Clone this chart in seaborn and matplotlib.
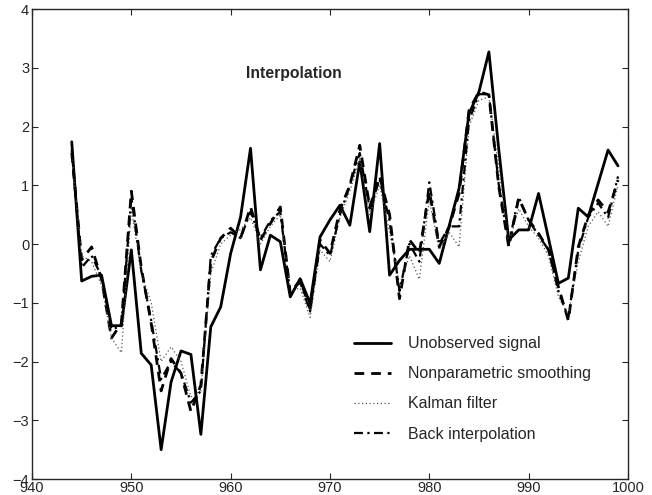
import numpy as np
import pandas as pd
import matplotlib
matplotlib.use("Agg")
import matplotlib.pyplot as plt
import seaborn as sns

# --- data ---
years = list(range(944, 1000))

signal = [1.74, -0.63, -0.55, -0.53, -1.39, -1.39, -0.10, -1.86, -2.06, -3.50,
          -2.35, -1.82, -1.88, -3.24, -1.41, -1.07, -0.16, 0.46, 1.63, -0.44,
          0.15, 0.04, -0.90, -0.59, -1.01, 0.12, 0.41, 0.66, 0.32, 1.40,
          0.21, 1.71, -0.53, -0.28, -0.09, -0.09, -0.09, -0.33, 0.31, 0.95,
          2.22, 2.59, 3.27, 1.60, 0.07, 0.24, 0.24, 0.86, 0.10, -0.67,
          -0.58, 0.61, 0.46, 1.03, 1.60, 1.33]

smoothing = [1.55, -0.27, -0.05, -0.60, -1.60, -1.35, 0.90, -0.40, -1.35, -2.50,
             -1.95, -2.20, -2.85, -2.40, -0.30, 0.10, 0.27, 0.10, 0.63, 0.07,
             0.35, 0.63, -0.84, -0.61, -1.10, 0.07, -0.16, 0.58, 1.00, 1.68,
             0.63, 1.15, 0.50, -0.93, 0.07, -0.15, 0.90, -0.05, 0.29, 0.86,
             2.28, 2.59, 2.54, 0.97, -0.05, 0.78, 0.41, 0.18, -0.10, -0.73,
             -1.30, -0.05, 0.49, 0.75, 0.54, 1.09]

kalman = [1.50, -0.20, -0.30, -0.70, -1.60, -1.85, 0.60, -0.50, -1.00, -2.00,
          -1.75, -2.00, -2.60, -2.50, -0.50, 0.00, 0.15, 0.25, 0.45, 0.00,
          0.30, 0.50, -0.80, -0.75, -1.25, -0.10, -0.30, 0.45, 0.90, 1.45,
          0.50, 1.00, 0.20, -0.70, -0.20, -0.60, 0.75, -0.10, 0.20, -0.05,
          2.00, 2.45, 2.50, 1.30, 0.00, 0.60, 0.30, 0.10, -0.20, -0.90,
          -1.20, -0.30, 0.30, 0.55, 0.30, 1.00]

back_interp = [1.60, -0.40, -0.20, -0.55, -1.45, -1.40, 0.80, -0.45, -1.30, -2.30,
               -2.00, -2.20, -2.70, -2.50, -0.20, 0.10, 0.20, 0.10, 0.55, 0.10,
               0.40, 0.55, -0.85, -0.65, -1.15, 0.00, -0.20, 0.50, 1.00, 1.55,
               0.60, 1.10, 0.40, -0.80, 0.00, -0.30, 1.05, 0.00, 0.30, 0.30,
               2.10, 2.55, 2.55, 1.00, 0.00, 0.80, 0.40, 0.15, -0.10, -0.80,
               -1.25, -0.10, 0.45, 0.70, 0.45, 1.15]

labels = ["Unobserved signal", "Nonparametric smoothing", "Kalman filter", "Back interpolation"]
x_ticks = [940, 950, 960, 970, 980, 990, 1000]
y_ticks = [-4, -3, -2, -1, 0, 1, 2, 3, 4]

df = pd.DataFrame({
    "year": years * 4,
    "value": signal + smoothing + kalman + back_interp,
    "series": sum([[lab] * len(years) for lab in labels], []),
})

# --- style ---
sns.set_style("ticks")
plt.rcParams["font.family"] = ["Liberation Sans", "DejaVu Sans"]
plt.rcParams.update({
    "xtick.direction": "in", "ytick.direction": "in",
    "xtick.top": True, "ytick.right": True,
    "xtick.major.size": 4, "ytick.major.size": 4,
    "xtick.major.pad": 1.5, "ytick.major.pad": 2,
    "axes.linewidth": 1.0,
})

fig = plt.figure(figsize=(6.52, 4.95), dpi=100)
ax = fig.add_axes([0.0491, 0.0323, 0.914, 0.9495])

styles = {
    "Unobserved signal": dict(lw=2.0, ls="-", color="black"),
    "Nonparametric smoothing": dict(lw=2.0, ls=(0, (3.5, 2.5)), color="black"),
    "Kalman filter": dict(lw=0.9, ls=(0, (1, 2)), color="#555555"),
    "Back interpolation": dict(lw=1.6, ls=(0, (4, 2, 1, 2)), color="black"),
}

for lab in labels:
    sub = df[df["series"] == lab]
    sns.lineplot(data=sub, x="year", y="value", ax=ax, label=lab, **styles[lab])

ax.set_xlim(940, 1000)
ax.set_ylim(-4, 4)
ax.set_xticks(x_ticks)
ax.set_yticks(y_ticks)
ax.tick_params(labelsize=10.5)
ax.set_xlabel("")
ax.set_ylabel("")
for s in ax.spines.values():
    s.set_visible(True)

ax.text(961.5, 2.9, "Interpolation", fontsize=11.3, fontweight="bold", va="center", ha="left")

ax.legend(loc="upper left", bbox_to_anchor=(0.540, 0.304), frameon=False,
          fontsize=11.5, handlelength=2.3, handletextpad=1.1, labelspacing=0.95,
          borderpad=0, borderaxespad=0)

fig.savefig("out.png", dpi=100)
